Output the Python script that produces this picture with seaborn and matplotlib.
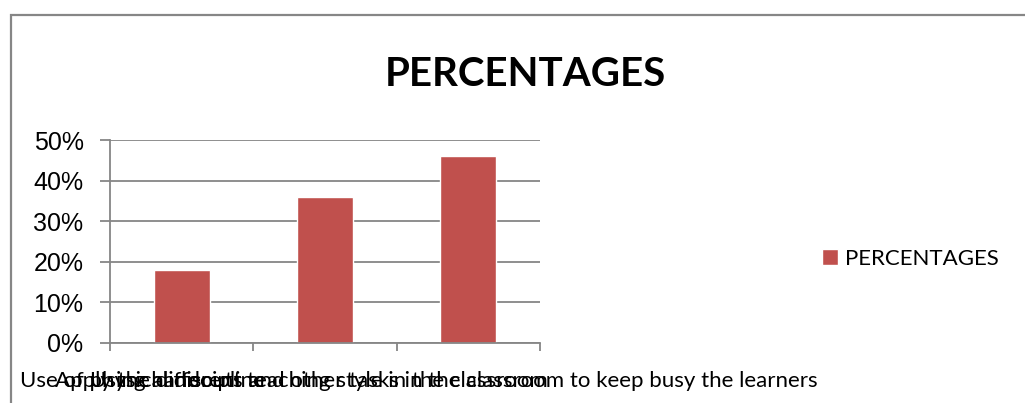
import seaborn as sns
import matplotlib.pyplot as plt
from matplotlib.patches import Rectangle
from matplotlib.ticker import PercentFormatter, FixedLocator

# Chart data
categories = [
    'Use of physical discipline',
    'Apply the different teaching style in the classroom',
    'Using handouts and other tasks in the classroom to keep busy the learners',
]
percentages = [0.18, 0.36, 0.46]
series_name = 'PERCENTAGES'
y_ticks = [0.0, 0.1, 0.2, 0.3, 0.4, 0.5]

bar_color = '#C0504D'
grid_color = '#868686'

sns.set_style('white')
plt.rcParams['font.family'] = ['Liberation Sans', 'DejaVu Sans']
plt.rcParams['text.color'] = 'black'
plt.rcParams['ytick.labelcolor'] = 'black'

fig = plt.figure(figsize=(10.25, 4.03), dpi=100)
ax = fig.add_axes([110 / 1025, 1 - 343 / 403, 430 / 1025, 203 / 403])

sns.barplot(x=categories, y=percentages, color=bar_color, width=0.39,
            label=series_name, ax=ax, saturation=1)

# Axes styling
ax.set_ylim(0, 0.5)
ax.set_xlim(-0.5, len(categories) - 0.5)
ax.yaxis.set_major_locator(FixedLocator(y_ticks))
ax.yaxis.set_major_formatter(PercentFormatter(1.0, decimals=0))
ax.set_xticks([i - 0.5 for i in range(len(categories) + 1)])
ax.set_xticklabels([])
ax.grid(axis='y', color=grid_color, linewidth=1.3)
ax.set_axisbelow(True)
for side in ['top', 'right']:
    ax.spines[side].set_visible(False)
for side in ['left', 'bottom']:
    ax.spines[side].set_color(grid_color)
    ax.spines[side].set_linewidth(1.3)
ax.tick_params(axis='y', left=True, length=7, width=1.3, color=grid_color,
               labelsize=18, pad=12, labelcolor='black')
ax.tick_params(axis='x', bottom=True, length=6, width=1.3, color=grid_color)
ax.set_xlabel('')
ax.set_ylabel('')

# Overlapping category labels, as in the original
label_x = [20, 55, 90]
for x, text in zip(label_x, categories):
    fig.text(x / 1025, 1 - 381 / 403, text, ha='left', va='center',
             fontsize=16, color='black', family=['Lato', 'DejaVu Sans'])

# Title
fig.text(525 / 1025, 1 - 75 / 403, series_name, ha='center', va='center',
         fontsize=29, fontweight='bold', color='black',
         family=['Lato', 'DejaVu Sans'])

# Legend
leg = ax.legend(loc='center left', bbox_to_anchor=(802 / 1025, 1 - 259 / 403),
                bbox_transform=fig.transFigure, frameon=False,
                handlelength=0.7, handleheight=0.7, handletextpad=0.35,
                prop={'family': 'Lato', 'size': 16})
for t in leg.get_texts():
    t.set_color('black')

# Outer chart border
fig.patches.append(Rectangle((11 / 1025, -0.1), 1.2, 1.1 - 15 / 403,
                             transform=fig.transFigure, fill=False,
                             edgecolor=grid_color, linewidth=1.6))

plt.savefig('out.png', dpi=100)
